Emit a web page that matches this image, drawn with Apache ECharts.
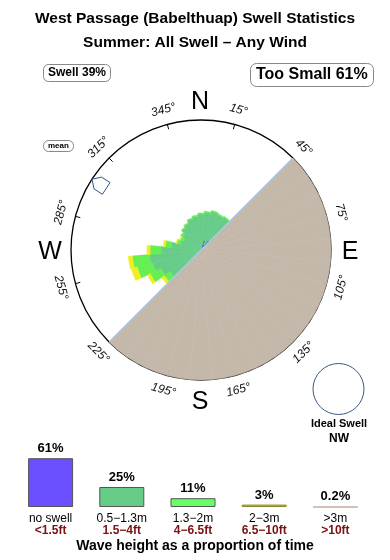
<!DOCTYPE html>
<html>
<head>
<meta charset="utf-8">
<script src="https://cdn.jsdelivr.net/npm/echarts@6/dist/echarts.min.js"></script>
<style>
html,body{margin:0;padding:0;background:#fff;}
#chart{width:390px;height:560px;}
</style>
</head>
<body>
<div id="chart"></div>
<script>
// ---- Rose data (direction bins of 10 degrees, centred on 0,10,...,350) ----
const DIRS = ['0','10','20','30','40','50','60','70','80','90','100','110','120','130','140','150','160','170',
              '180','190','200','210','220','230','240','250','260','270','280','290','300','310','320','330','340','350'];
const ROSE_BLUE   = [0,0,2,1.2,2.4, 0,0,0,0,0,0,0,0,0,0,0,0,0, 0,0,0,0,0, 0,0,0,0,0,0,0,0,0,0,0,0,0];
const ROSE_DGREEN = [7.2,7.6,6,6.6,5.6, 0,0,0,0,0,0,0,0,0,0,0,0,0, 0,0,0,0,0, 7.6,8.8,10,10.4,8,6,4.4,4,4.6,5.4,5.8,6.4,6.8];
const ROSE_LGREEN = [0.2,0.2,0.2,0.2,0.2, 0,0,0,0,0,0,0,0,0,0,0,0,0, 0,0,0,0,0, 1.4,2.4,3.2,3.4,2.2,1.2,0.6,0.6,0.4,0.2,0.2,0.2,0.2];
const ROSE_YELLOW = [0,0,0,0,0, 0,0,0,0,0,0,0,0,0,0,0,0,0, 0,0,0,0,0, 0.6,0.6,1.2,0.8,0.6,0.4,0.2,0.2,0,0,0,0,0];
const LAND        = [0,0,0,0,0, 26,26,26,26,26,26,26,26,26,26,26,26,26, 26,26,26,26,26, 0,0,0,0,0,0,0,0,0,0,0,0,0];
const RMAX = 26;
const MEAN_DIR = 303;
const DEG_LABELS = [15,45,75,105,135,165,195,225,255,285,315,345];
const COMPASS = [['N',0],['E',90],['S',180],['W',270]];

// ---- Wave height proportions ----
const BAR_CATS   = ['no swell','0.5\u22121.3m','1.3\u22122m','2\u22123m','>3m'];
const BAR_FT     = ['<1.5ft','1.5\u22124ft','4\u22126.5ft','6.5\u221210ft','>10ft'];
const BAR_VALUES = [61,25,11,3,0.2];
const BAR_COLORS = ['#6a50ff','#66cc88','#66ff66','#d0d030','#c8aaa2'];
const BAR_BORDERS = ['#555','#555','#555','#8a8a28','#c8aaa2'];

const FONT = '"Liberation Sans", Arial, Helvetica, sans-serif';
const CX = 201, CY = 250, R = 130;

const chart = echarts.init(document.getElementById('chart'), null, {renderer:'canvas'});

const graphics = [];
DEG_LABELS.forEach(function(b){
  const rad = b*Math.PI/180;
  const rr = 145;
  const x = CX + rr*Math.sin(rad), y = CY - rr*Math.cos(rad);
  const rot = (b > 90 && b < 270) ? 180 - b : -b;
  graphics.push({type:'text', x:x, y:y, rotation: rot*Math.PI/180, silent:true,
    style:{text: b+'\u00b0', font:'italic 12px '+FONT, fill:'#111',
      align:'center', verticalAlign:'middle', textAlign:'center', textVerticalAlign:'middle'}});
});
COMPASS.forEach(function(c){
  const rad = c[1]*Math.PI/180;
  const rr = 150;
  graphics.push({type:'text', x: CX - 1 + rr*Math.sin(rad), y: CY + 2 - rr*Math.cos(rad), silent:true,
    style:{text:c[0], font:'25px '+FONT, fill:'#000',
      align:'center', verticalAlign:'middle', textAlign:'center', textVerticalAlign:'middle'}});
});
// mean direction marker
(function(){
  const rad = MEAN_DIR*Math.PI/180;
  const ox = Math.sin(rad), oy = -Math.cos(rad);
  const tx = Math.cos(rad), ty = Math.sin(rad);
  const loc = [[130,0],[123,-7],[113,-7],[113,7],[123,7]];
  const pts = loc.map(function(p){ return [CX + p[0]*ox + p[1]*tx, CY + p[0]*oy + p[1]*ty]; });
  graphics.push({type:'polygon', silent:true, z:100, shape:{points:pts},
    style:{fill:'#fff', stroke:'#2f5580', lineWidth:1}});
})();
// ideal swell circle
graphics.push({type:'circle', silent:true, shape:{cx:338.5, cy:389, r:25.5},
  style:{fill:'#fff', stroke:'#3d5a80', lineWidth:1}});
graphics.push({type:'text', x:339, y:424, silent:true,
  style:{text:'Ideal Swell', font:'bold 11px '+FONT, fill:'#000', align:'center', verticalAlign:'middle', textAlign:'center', textVerticalAlign:'middle'}});
graphics.push({type:'text', x:339, y:439, silent:true,
  style:{text:'NW', font:'bold 12px '+FONT, fill:'#000', align:'center', verticalAlign:'middle', textAlign:'center', textVerticalAlign:'middle'}});
graphics.push({type:'text', x:195, y:546, silent:true,
  style:{text:'Wave height as a proportion of time', font:'bold 14px '+FONT, fill:'#000', align:'center', verticalAlign:'middle', textAlign:'center', textVerticalAlign:'middle'}});

const roseBar = function(name, data, color){
  // empty bins are left out so that no zero-height wedge (and its border) is drawn
  return {type:'bar', name:name, coordinateSystem:'polar', polarIndex:0, stack:'rose',
    data:data.map(function(v){ return v === 0 ? null : v; }), barCategoryGap:'0%', silent:true, animation:false,
    itemStyle:{color:color, borderColor:color, borderWidth:0.6}};
};

const option = {
  animation:false,
  backgroundColor:'#fff',
  title:[
    {text:'West Passage (Babelthuap) Swell Statistics', left:'center', top:6,
      textStyle:{fontFamily:FONT, fontSize:15.5, fontWeight:'bold', color:'#000'}},
    {text:'Summer: All Swell \u2013 Any Wind', left:'center', top:30,
      textStyle:{fontFamily:FONT, fontSize:15.5, fontWeight:'bold', color:'#000'}},
    {text:'Swell 39%', left:43, top:64, padding:[3,5,3,5], borderWidth:1, borderColor:'#888', borderRadius:5,
      textStyle:{fontFamily:FONT, fontSize:12, fontWeight:'bold', color:'#000'}},
    {text:'Too Small 61%', left:250, top:63, padding:[4,6,4,6], borderWidth:1, borderColor:'#888', borderRadius:6,
      textStyle:{fontFamily:FONT, fontSize:16, fontWeight:'bold', color:'#000'}},
    {text:'mean', left:43, top:140, padding:[2,5,2,5], borderWidth:1, borderColor:'#888', borderRadius:5,
      textStyle:{fontFamily:FONT, fontSize:8, fontWeight:'bold', color:'#000'}}
  ],
  polar:[
    {center:[CX,CY], radius:R},
    {center:[CX,CY], radius:R}
  ],
  angleAxis:[
    {polarIndex:0, type:'category', data:DIRS, startAngle:95, clockwise:true, show:false},
    {polarIndex:1, type:'value', min:-15, max:345, interval:30, startAngle:105, clockwise:true,
      axisLine:{show:true, lineStyle:{color:'#000', width:1.3}},
      axisTick:{show:true, inside:true, length:5, lineStyle:{color:'#000', width:1}},
      axisLabel:{show:false}, splitLine:{show:false}}
  ],
  radiusAxis:[
    {polarIndex:0, min:0, max:RMAX, show:false},
    {polarIndex:1, min:0, max:1, show:false}
  ],
  grid:{left:15, right:19, top:427, bottom:53},
  xAxis:{type:'category', data:BAR_CATS, axisLine:{show:false}, axisTick:{show:false},
    axisLabel:{interval:0, margin:6,
      formatter:function(v, i){ return '{a|'+v+'}\n{b|'+BAR_FT[i]+'}'; },
      rich:{a:{fontFamily:FONT, fontSize:12, color:'#000', lineHeight:12},
            b:{fontFamily:FONT, fontSize:12, fontWeight:'bold', color:'#7a1010', lineHeight:12}}}},
  yAxis:{type:'value', min:0, max:100, show:false},
  graphic:graphics,
  series:[
    roseBar('land', LAND, '#c4b8ab'),
    roseBar('blue', ROSE_BLUE, '#5a44ee'),
    roseBar('0.5-1.3m', ROSE_DGREEN, '#66cc88'),
    roseBar('1.3-2m', ROSE_LGREEN, '#66ee55'),
    roseBar('2-3m', ROSE_YELLOW, '#eeee22'),
    {type:'line', coordinateSystem:'polar', polarIndex:1, data:[[1,45],[1,225]], symbol:'none', silent:true,
      lineStyle:{color:'#a8c8e8', width:1.5}, z:3},
    {type:'bar', xAxisIndex:0, yAxisIndex:0, barWidth:45, silent:true,
      data:BAR_VALUES.map(function(v,i){
        return {value:v, itemStyle:{color:BAR_COLORS[i], borderColor:BAR_BORDERS[i], borderWidth: i===4 ? 1.5 : 1}};
      }),
      label:{show:true, position:'top', distance:3, fontFamily:FONT, fontSize:13, fontWeight:'bold', color:'#000',
        formatter:function(p){ return p.value+'%'; }}}
  ]
};
chart.setOption(option);
</script>
</body>
</html>
